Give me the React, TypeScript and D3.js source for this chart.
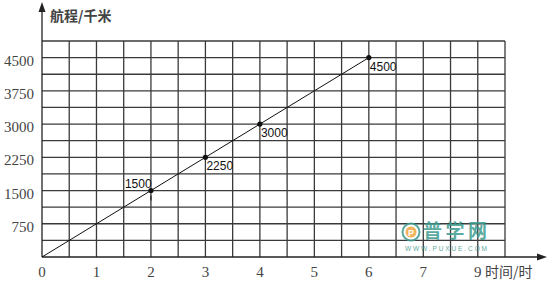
import React from "react";
import * as d3 from "d3";

const xTickValues = [0, 1, 2, 3, 4, 5, 6, 7, 8];
const xTickLabels = ["0", "1", "2", "3", "4", "5", "6", "7", "9"];
const yTickValues = [750, 1500, 2250, 3000, 3750, 4500];
const pointHours = [2, 3, 4, 6];
const pointKm = [1500, 2250, 3000, 4500];
const pointLabels = ["1500", "2250", "3000", "4500"];
const lineHours = [0, 6];
const lineKm = [0, 4500];
const yTitle = "航程/千米";
const xTitle = "时间/时";

export default function App() {
  const W = 551, H = 285;
  const x = d3.scaleLinear().domain([0, 8.5]).range([42, 505]);
  const y = d3.scaleLinear().domain([0, 4875]).range([257, 41]);
  const gridX = d3.range(0.5, 8.51, 0.5);
  const gridY = d3.range(375, 4876, 375);
  const grid = "#3a3a3a";
  const line = d3.line<[number, number]>().x(d => x(d[0])).y(d => y(d[1]));
  const lineData: [number, number][] = lineHours.map((h, i) => [h, lineKm[i]]);
  const serif = "'Liberation Serif', 'DejaVu Serif', serif";
  const sans = "'Liberation Sans', Arial, sans-serif";
  const cjk = "'Noto Sans CJK SC', sans-serif";
  const teal = "#3f9c8f";
  return (
    <svg width={W} height={H} style={{ position: "absolute", left: 0, top: 0, background: "#fff" }}>
      {gridX.map(v => (
        <line key={"gx" + v} x1={x(v)} x2={x(v)} y1={y(0)} y2={y(4875)} stroke={grid} strokeWidth={1.3} />
      ))}
      {gridY.map(v => (
        <line key={"gy" + v} x1={x(0)} x2={x(8.5)} y1={y(v)} y2={y(v)} stroke={grid} strokeWidth={1.3} />
      ))}
      {/* axes */}
      <line x1={x(0)} x2={x(0)} y1={y(0)} y2={8} stroke="#222" strokeWidth={1.3} />
      <path d={`M${x(0)},2 L${x(0) - 3.5},12 L${x(0) + 3.5},12 Z`} fill="#222" />
      <line x1={x(0)} x2={540} y1={y(0)} y2={y(0)} stroke="#222" strokeWidth={1.3} />
      <path d={`M547,${y(0)} L537,${y(0) - 3.5} L537,${y(0) + 3.5} Z`} fill="#222" />
      {/* watermark */}
      <g opacity={0.85}>
        <circle cx={411} cy={232} r={8.5} fill="#fff" stroke={teal} strokeWidth={2} />
        <circle cx={411} cy={232} r={5.5} fill="#f0a640" />
        <text x={411} y={235.5} textAnchor="middle" fontFamily={sans} fontSize={9} fill="#fff" fontWeight="bold">P</text>
        <text x={423} y={238} fontFamily={cjk} fontSize={19} fill={teal} fontWeight="bold" textLength={64} lengthAdjust="spacing">普学网</text>
        <text x={405} y={251} fontFamily={sans} fontSize={6.5} fill={teal} textLength={82} lengthAdjust="spacing">WWW.PUXUE.COM</text>
      </g>
      {/* data line */}
      <path d={line(lineData) || ""} fill="none" stroke="#111" strokeWidth={1} />
      <line x1={x(2)} x2={x(2)} y1={y(1500) + 5} y2={y(1500) + 10} stroke="#111" strokeWidth={1} />
      {pointHours.map((h, i) => (
        <circle key={"p" + i} cx={x(h)} cy={y(pointKm[i])} r={2.6} fill="#111" />
      ))}
      {pointHours.map((h, i) => {
        const above = i === 0;
        return (
          <text
            key={"pl" + i}
            x={above ? x(h) - 26 : x(h) + 1}
            y={above ? y(pointKm[i]) - 3 : y(pointKm[i]) + 13}
            fontFamily={sans}
            fontSize={12}
            fill="#111"
          >
            {pointLabels[i]}
          </text>
        );
      })}
      {/* x ticks */}
      {xTickValues.map((v, i) => (
        <text key={"xt" + v} x={x(v)} y={277} textAnchor="middle" fontFamily={serif} fontSize={15} fill="#444">
          {xTickLabels[i]}
        </text>
      ))}
      <text x={485} y={277} fontFamily={cjk} fontSize={14} fill="#444">{xTitle}</text>
      {/* y ticks */}
      {yTickValues.map(v => (
        <text key={"yt" + v} x={34} y={y(v) + 8} textAnchor="end" fontFamily={serif} fontSize={15} fill="#444">
          {v}
        </text>
      ))}
      <text x={50} y={21} fontFamily={cjk} fontSize={14} fill="#444" fontWeight="bold">{yTitle}</text>
    </svg>
  );
}
